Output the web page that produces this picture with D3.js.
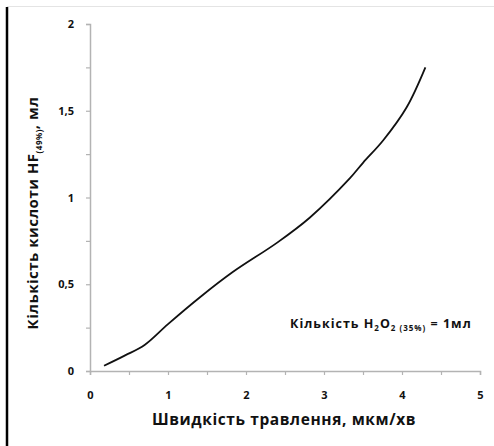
<!DOCTYPE html>
<html>
<head>
<meta charset="utf-8">
<script src="https://cdn.jsdelivr.net/npm/d3@7"></script>
<style>
  body { margin: 0; background: #fff; }
  svg text { font-family: "Open Sans", "DejaVu Sans", sans-serif; font-weight: bold; fill: #111; }
</style>
</head>
<body>
<div id="chart"></div>
<script>
// швидкість травлення, мкм/хв
const speed = [0.18, 0.45, 0.7, 1.0, 1.41, 1.83, 2.4, 2.82, 3.33, 3.5, 3.76, 4.06, 4.3];
// кількість HF, мл
const hf = [0.03, 0.09, 0.15, 0.27, 0.425, 0.57, 0.74, 0.885, 1.11, 1.2, 1.33, 1.52, 1.75];
const xTicks = [0, 1, 2, 3, 4, 5];
const yTicks = [0, 0.5, 1, 1.5, 2];

const width = 494, height = 446;
const svg = d3.select("#chart").append("svg")
  .attr("width", width)
  .attr("height", height);

// frame remnants of the original figure
svg.append("line")
  .attr("x1", 7).attr("x2", width).attr("y1", 6.5).attr("y2", 6.5)
  .attr("stroke", "#e4e4e4").attr("stroke-width", 1);
svg.append("line")
  .attr("x1", 7).attr("x2", 7).attr("y1", 7).attr("y2", height)
  .attr("stroke", "#000").attr("stroke-width", 2.5);

const x = d3.scaleLinear().domain([0, 5]).range([90, 480]);
const y = d3.scaleLinear().domain([0, 2]).range([371, 24]);

const fmt = d => d3.format("")(d).replace(".", ",");

// x axis
const xAxis = svg.append("g").attr("transform", "translate(0,371)")
  .call(d3.axisBottom(x).tickValues(d3.range(0, 5.01, 0.5)).tickSize(4)
    .tickFormat(d => xTicks.includes(d) ? fmt(d) : ""));
// y axis
const yAxis = svg.append("g").attr("transform", "translate(90,0)")
  .call(d3.axisLeft(y).tickValues(d3.range(0, 2.01, 0.25)).tickSize(4)
    .tickFormat(d => yTicks.includes(d) ? fmt(d) : ""));

[xAxis, yAxis].forEach(g => {
  g.select(".domain").attr("stroke", "#b3b3b3").attr("stroke-width", 1.5);
  g.selectAll(".tick line").attr("stroke", "#b3b3b3").attr("stroke-width", 1.2);
  g.selectAll(".tick text").attr("font-size", 11).style("font-weight", "bold")
    .attr("fill", "#111");
});
xAxis.selectAll(".tick text").attr("dy", "1.9em");
yAxis.selectAll(".tick text").attr("x", -16);

// curve
const line = d3.line()
  .x((d, i) => x(speed[i]))
  .y(d => y(d))
  .curve(d3.curveCatmullRom.alpha(0.5));
svg.append("path")
  .datum(hf)
  .attr("d", line)
  .attr("fill", "none")
  .attr("stroke", "#111")
  .attr("stroke-width", 1.8);

// axis titles
svg.append("text")
  .attr("x", 284).attr("y", 425)
  .attr("text-anchor", "middle")
  .attr("font-size", 15.5)
  .attr("letter-spacing", 0.6)
  .text("Швидкість травлення, мкм/хв");

const yt = svg.append("text")
  .attr("transform", "translate(38,213) rotate(-90)")
  .attr("text-anchor", "middle")
  .attr("font-size", 15)
  .attr("letter-spacing", 0.5);
yt.append("tspan").text("Кількість кислоти HF");
yt.append("tspan").attr("font-size", 8).attr("dy", 4).text("(49%)");
yt.append("tspan").attr("dy", -4).text(", мл");

// annotation
const note = svg.append("text")
  .attr("x", 290).attr("y", 328)
  .attr("font-size", 12.5)
  .attr("letter-spacing", 1);
note.append("tspan").text("Кількість  H");
note.append("tspan").attr("font-size", 8).attr("dy", 3).text("2");
note.append("tspan").attr("dy", -3).text("O");
note.append("tspan").attr("font-size", 8).attr("dy", 3).text("2 (35%)");
note.append("tspan").attr("dy", -3).text(" = 1мл");
</script>
</body>
</html>
